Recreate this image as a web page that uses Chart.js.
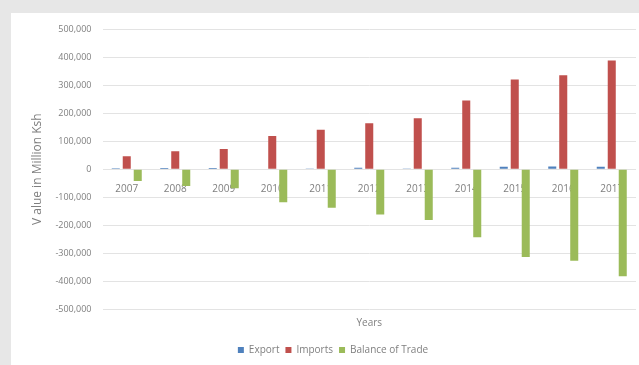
<!DOCTYPE html>
<html>
<head>
<meta charset="utf-8">
<script src="https://cdn.jsdelivr.net/npm/chart.js@4"></script>
<style>
  html, body { margin: 0; padding: 0; }
  body { width: 639px; height: 365px; background: #e7e7e7; overflow: hidden; position: relative; }
  #panel { position: absolute; left: 11px; top: 13px; width: 640px; height: 352px; background: #fff; }
</style>
</head>
<body>
<div id="panel"><canvas id="tradeChart" width="640" height="352"></canvas></div>
<script>
var years = ["2007", "2008", "2009", "2010", "2011", "2012", "2013", "2014", "2015", "2016", "2017"];
var exportVals = [3000, 4000, 4000, 1500, 2500, 5000, 2500, 5000, 9000, 10000, 9000];
var importVals = [46000, 64000, 72000, 119000, 141000, 164000, 182000, 246000, 321000, 336000, 389000];
var balanceVals = [-42000, -60000, -68000, -118000, -138000, -162000, -182000, -243000, -314000, -327000, -383000];

var textGrey = '#7f7f7f';
var fontFam = "'Open Sans', 'Liberation Sans', sans-serif";

var ctx = document.getElementById("tradeChart");
var tradeChart = new Chart(ctx, {
    type: 'bar',
    data: {
        labels: years,
        datasets: [
            { label: 'Export', data: exportVals, backgroundColor: '#4f81bd' },
            { label: 'Imports', data: importVals, backgroundColor: '#c0504d' },
            { label: 'Balance of Trade', data: balanceVals, backgroundColor: '#9bbb59' }
        ]
    },
    options: {
        responsive: false,
        animation: false,
        layout: { padding: { left: 19, right: 15, top: 8, bottom: 0 } },
        datasets: {
            bar: { categoryPercentage: 0.68, barPercentage: 0.73 }
        },
        scales: {
            // year labels sit on the zero line
            x: {
                position: { y: 0 },
                grid: { display: false },
                border: { display: false },
                ticks: {
                    color: textGrey,
                    padding: 6,
                    maxRotation: 0,
                    font: { family: fontFam, size: 10 }
                }
            },
            // blank axis that only carries the "Years" title under the plot
            xTitle: {
                type: 'category',
                labels: years,
                position: 'bottom',
                grid: { display: false },
                border: { display: false },
                ticks: { display: false },
                title: {
                    display: true,
                    text: 'Years',
                    color: textGrey,
                    padding: { top: 0, bottom: 10 },
                    font: { family: fontFam, size: 10 }
                }
            },
            y: {
                min: -500000,
                max: 500000,
                grid: { color: '#e3e3e3', drawTicks: false },
                border: { display: false },
                ticks: {
                    stepSize: 100000,
                    color: textGrey,
                    padding: 11,
                    font: { family: fontFam, size: 9 },
                    callback: function (v) { return v.toLocaleString('en-US'); }
                },
                title: {
                    display: true,
                    text: 'V alue in Million Ksh',
                    color: textGrey,
                    padding: { top: 0, bottom: 0 },
                    font: { family: fontFam, size: 12 }
                }
            }
        },
        plugins: {
            legend: {
                position: 'bottom',
                labels: {
                    boxWidth: 6,
                    boxHeight: 6,
                    padding: 6,
                    color: textGrey,
                    font: { family: fontFam, size: 10 }
                }
            },
            tooltip: { enabled: false }
        }
    }
});
</script>
</body>
</html>
